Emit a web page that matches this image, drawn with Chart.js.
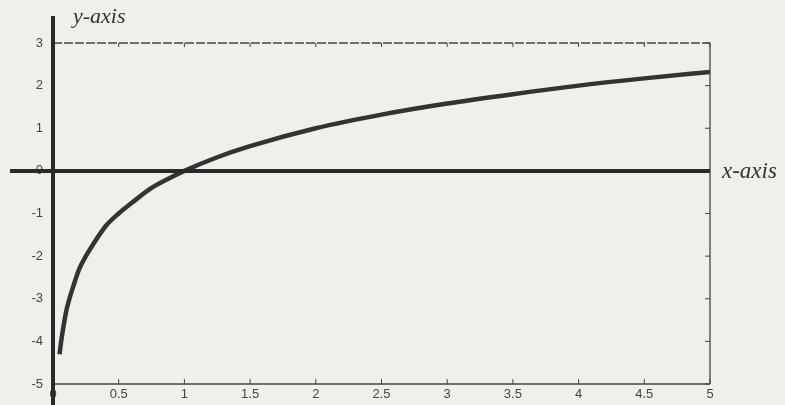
<!DOCTYPE html>
<html>
<head>
<meta charset="utf-8">
<script src="https://cdn.jsdelivr.net/npm/chart.js@4"></script>
<style>
  html, body { margin: 0; padding: 0; background: #efefeb; }
  #wrap { width: 785px; height: 405px; position: relative; }
</style>
</head>
<body>
<div id="wrap"><canvas id="logChart"></canvas></div>
<script>
// values
const xValues = [0.05, 0.06, 0.08, 0.1, 0.125, 0.15, 0.2, 0.25, 0.3, 0.4, 0.5, 0.6, 0.75, 0.9, 1, 1.25, 1.5, 2, 2.5, 3, 3.5, 4, 4.5, 5];
const yValues = [-4.3, -4.05, -3.65, -3.3, -3.0, -2.75, -2.3, -2.0, -1.75, -1.3, -1.0, -0.75, -0.4, -0.15, 0, 0.32, 0.58, 1.0, 1.32, 1.58, 1.8, 2.0, 2.17, 2.32];
const xTicks = [0, 0.5, 1, 1.5, 2, 2.5, 3, 3.5, 4, 4.5, 5];
const yTicks = [-5, -4, -3, -2, -1, 0, 1, 2, 3];

const points = xValues.map((x, i) => ({ x: x, y: yValues[i] }));

// axes, frame, inner ticks and axis names
const frame = {
    id: "frame",
    beforeDraw(chart) {
        const c = chart.ctx;
        c.save();
        c.fillStyle = "#efefeb";
        c.fillRect(0, 0, chart.width, chart.height);
        c.restore();
    },
    afterDatasetsDraw(chart) {
        const c = chart.ctx, a = chart.chartArea;
        const xs = chart.scales.x, ys = chart.scales.y;
        c.save();
        // frame
        c.strokeStyle = "#444";
        c.lineWidth = 1.3;
        c.setLineDash([9, 2]);
        c.beginPath(); c.moveTo(a.left, a.top); c.lineTo(a.right, a.top); c.stroke();
        c.setLineDash([]);
        c.beginPath(); c.moveTo(a.right, a.top); c.lineTo(a.right, a.bottom); c.stroke();
        c.beginPath(); c.moveTo(a.left, a.bottom); c.lineTo(a.right, a.bottom); c.stroke();
        // inner ticks
        c.lineWidth = 1;
        xTicks.forEach(v => {
            const px = xs.getPixelForValue(v);
            c.beginPath(); c.moveTo(px, a.bottom); c.lineTo(px, a.bottom - 5); c.stroke();
            c.beginPath(); c.moveTo(px, a.top); c.lineTo(px, a.top + 4); c.stroke();
        });
        yTicks.forEach(v => {
            const py = ys.getPixelForValue(v);
            c.beginPath(); c.moveTo(a.right, py); c.lineTo(a.right - 5, py); c.stroke();
        });
        // thick axes
        const x0 = xs.getPixelForValue(0), y0 = ys.getPixelForValue(0);
        c.strokeStyle = "#2a2a2a";
        c.lineWidth = 4;
        c.beginPath(); c.moveTo(x0, 16); c.lineTo(x0, chart.height); c.stroke();
        c.beginPath(); c.moveTo(10, y0); c.lineTo(a.right, y0); c.stroke();
        // axis names
        c.fillStyle = "#333";
        c.textBaseline = "alphabetic";
        c.textAlign = "left";
        c.font = "italic 22px 'Liberation Serif', 'DejaVu Serif', serif";
        c.fillText("y-axis", 73, 23);
        c.font = "italic 23px 'Liberation Serif', 'DejaVu Serif', serif";
        c.fillText("x-axis", 722, y0 + 7);
        c.restore();
    }
};

new Chart(document.getElementById("logChart"), {
    type: "scatter",
    data: {
        datasets: [{
            data: points,
            showLine: true,
            borderColor: "#333",
            borderWidth: 4.5,
            pointRadius: 0,
            cubicInterpolationMode: "monotone",
            fill: false
        }]
    },
    options: {
        responsive: true,
        maintainAspectRatio: false,
        animation: false,
        layout: { padding: { top: 43, right: 75, left: 0, bottom: 0 } },
        plugins: {
            legend: { display: false },
            tooltip: { enabled: false }
        },
        scales: {
            x: {
                type: "linear",
                min: 0,
                max: 5,
                afterBuildTicks: s => { s.ticks = xTicks.map(v => ({ value: v })); },
                afterFit: s => { s.height = 21; },
                grid: { display: false, drawTicks: false },
                border: { display: false },
                ticks: {
                    padding: 3,
                    color: "#444",
                    font: { family: "'Liberation Sans', Arial, sans-serif", size: 13 },
                    maxRotation: 0,
                    callback: v => String(v)
                }
            },
            y: {
                type: "linear",
                min: -5,
                max: 3,
                afterBuildTicks: s => { s.ticks = yTicks.map(v => ({ value: v })); },
                afterFit: s => { s.width = 53; },
                grid: { display: false, drawTicks: false },
                border: { display: false },
                ticks: {
                    padding: 10,
                    color: "#444",
                    font: { family: "'Liberation Sans', Arial, sans-serif", size: 13 }
                }
            }
        }
    },
    plugins: [frame]
});
</script>
</body>
</html>
